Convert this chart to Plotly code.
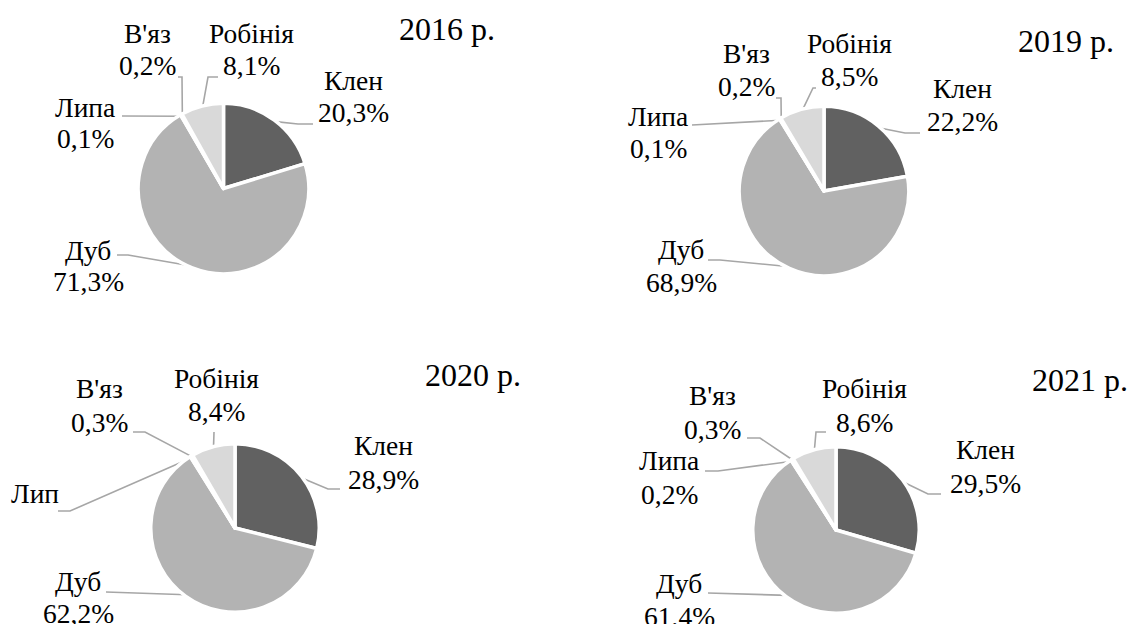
import math
import plotly.graph_objects as go

# ---------------- data ----------------
species = ["Клен", "Дуб", "Липа", "В'яз", "Робінія"]
years = ["2016 р.", "2019 р.", "2020 р.", "2021 р."]
values_2016 = [20.3, 71.3, 0.1, 0.2, 8.1]
values_2019 = [22.2, 68.9, 0.1, 0.2, 8.5]
values_2020 = [28.9, 62.2, 0.2, 0.3, 8.4]
values_2021 = [29.5, 61.4, 0.2, 0.3, 8.6]
value_labels_2016 = ["20,3%", "71,3%", "0,1%", "0,2%", "8,1%"]
value_labels_2019 = ["22,2%", "68,9%", "0,1%", "0,2%", "8,5%"]
value_labels_2020 = ["28,9%", "62,2%", "", "0,3%", "8,4%"]
value_labels_2021 = ["29,5%", "61,4%", "0,2%", "0,3%", "8,6%"]
name_labels_2020 = ["Клен", "Дуб", "Лип", "В'яз", "Робінія"]

# ---------------- layout / style ----------------
W, H = 1131, 624
colors = ["#616161", "#b3b3b3", "#8c8c8c", "#404040", "#d9d9d9"]
FONT = "Liberation Serif, Times New Roman, serif"
LBL_SIZE = 27.5
TITLE_SIZE = 32
LEADER_COLOR = "#a6a6a6"

pies = [
    dict(vals=values_2016, vlab=value_labels_2016, names=species, title=years[0],
         c=(223.5, 188.5), r=83.5, title_pos=(447, 29),
         labels=[(353, 80, 112), (88, 250, 281), (85, 107, 138), (147, 33, 65), (251, 33, 65)],
         knees=[[(298, 124), (313, 124)], [(128, 255), (117, 255)], [(122, 116)],
                [(182, 77), (178, 77)], [(208, 77), (218, 77)]]),
    dict(vals=values_2019, vlab=value_labels_2019, names=species, title=years[1],
         c=(824, 191), r=83, title_pos=(1066, 41),
         labels=[(962, 88, 121), (681, 249, 282), (658, 116, 148), (746, 53, 86), (849, 43, 76)],
         knees=[[(905, 133), (920, 133)], [(720, 260), (708, 260)], [(700, 125), (692, 125)],
                [(781, 98), (776, 98)], [(813, 88), (816, 88)]]),
    dict(vals=values_2020, vlab=value_labels_2020, names=name_labels_2020, title=years[2],
         c=(235, 528), r=82.5, title_pos=(473, 375),
         labels=[(383, 445, 479), (78, 581, 613), (35, 493, None), (99, 388, 422), (216, 378, 411)],
         knees=[[(328, 489), (340, 489)], [(106, 592)], [(70, 511), (58, 511)],
                [(145, 432), (133, 432)], [(214, 432)]]),
    dict(vals=values_2021, vlab=value_labels_2021, names=species, title=years[3],
         c=(836, 530), r=81.5, title_pos=(1080, 380),
         labels=[(985, 449, 483), (679, 583, 616), (669, 460, 494), (712, 395, 429), (864, 388, 422)],
         knees=[[(928, 494), (941, 494)], [(708, 593)], [(718, 471), (705, 471)],
                [(760, 438), (747, 438)], [(816, 432), (826, 432)]]),
]

BORDER = 3.5

fig = go.Figure()
annotations = []

for p in pies:
    cx, cy = p["c"]
    r = p["r"] + BORDER / 2
    fig.add_trace(go.Pie(
        labels=p["names"], values=p["vals"], sort=False, direction="clockwise",
        rotation=0, textinfo="none", hoverinfo="label+percent",
        marker=dict(colors=colors, line=dict(color="white", width=BORDER)),
        domain=dict(x=[(cx - r) / W, (cx + r) / W], y=[1 - (cy + r) / H, 1 - (cy - r) / H]),
        showlegend=False,
    ))
    total = sum(p["vals"])
    cum = 0.0
    for i, v in enumerate(p["vals"]):
        mid = (cum + v / 2) / total * 2 * math.pi
        cum += v
        ex = cx + p["r"] * math.sin(mid)
        ey = cy - p["r"] * math.cos(mid)
        xs = [ex] + [k[0] for k in p["knees"][i]]
        ys = [ey] + [k[1] for k in p["knees"][i]]
        fig.add_trace(go.Scatter(x=xs, y=ys, mode="lines", xaxis="x", yaxis="y",
                                 line=dict(color=LEADER_COLOR, width=1.6),
                                 hoverinfo="skip", showlegend=False))
        lx, ny, vy = p["labels"][i]
        annotations.append(dict(x=lx, y=ny, xref="x", yref="y", text=p["names"][i],
                                showarrow=False, xanchor="center", yanchor="middle",
                                font=dict(family=FONT, size=LBL_SIZE, color="black")))
        if vy is not None and p["vlab"][i]:
            annotations.append(dict(x=lx, y=vy, xref="x", yref="y", text=p["vlab"][i],
                                    showarrow=False, xanchor="center", yanchor="middle",
                                    font=dict(family=FONT, size=LBL_SIZE, color="black")))
    tx, ty = p["title_pos"]
    annotations.append(dict(x=tx, y=ty, xref="x", yref="y", text=p["title"],
                            showarrow=False, xanchor="center", yanchor="middle",
                            font=dict(family=FONT, size=TITLE_SIZE, color="black")))

fig.update_layout(
    width=W, height=H,
    margin=dict(l=0, r=0, t=0, b=0),
    font=dict(family=FONT),
    paper_bgcolor="white", plot_bgcolor="rgba(0,0,0,0)",
    xaxis=dict(range=[0, W], visible=False, domain=[0, 1], fixedrange=True),
    yaxis=dict(range=[H, 0], visible=False, domain=[0, 1], fixedrange=True),
    annotations=annotations,
)

fig.write_html("out.html",
               config={"displayModeBar": False},
               post_script="document.body.style.margin='0';document.body.style.overflow='hidden';")
